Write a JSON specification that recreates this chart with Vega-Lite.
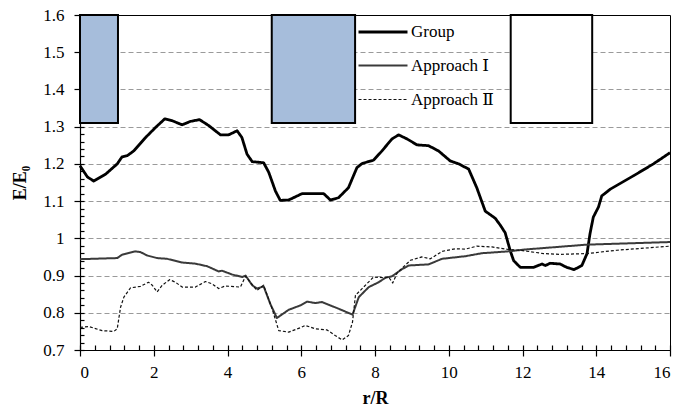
{
  "$schema": "https://vega.github.io/schema/vega-lite/v6.json",
  "width": 590,
  "height": 335,
  "autosize": {"type": "none"},
  "padding": {"left": 80, "top": 15, "right": 12, "bottom": 63},
  "config": {
    "font": "Liberation Serif",
    "view": {"stroke": "#000000", "strokeWidth": 1},
    "axis": {
      "labelFont": "Liberation Serif",
      "labelFontSize": 17,
      "labelColor": "#000000",
      "titleFont": "Liberation Serif",
      "titleFontSize": 18,
      "titleFontWeight": "bold",
      "titleColor": "#000000",
      "domainColor": "#000000",
      "tickColor": "#000000",
      "domainWidth": 1.2,
      "tickWidth": 1.2,
      "grid": false
    },
    "legend": {
      "labelFont": "Liberation Serif, DejaVu Serif",
      "labelFontSize": 17,
      "labelColor": "#000000"
    }
  },
  "datasets": {
    "curves": [
      {"s": "Group", "r": 0, "v": 1.195},
      {"s": "Group", "r": 0.2, "v": 1.165},
      {"s": "Group", "r": 0.37, "v": 1.154},
      {"s": "Group", "r": 0.69, "v": 1.172},
      {"s": "Group", "r": 1.01, "v": 1.2},
      {"s": "Group", "r": 1.14, "v": 1.219},
      {"s": "Group", "r": 1.28, "v": 1.222},
      {"s": "Group", "r": 1.46, "v": 1.235},
      {"s": "Group", "r": 1.78, "v": 1.271},
      {"s": "Group", "r": 2.05, "v": 1.298},
      {"s": "Group", "r": 2.3, "v": 1.321},
      {"s": "Group", "r": 2.5, "v": 1.316},
      {"s": "Group", "r": 2.77, "v": 1.305},
      {"s": "Group", "r": 2.99, "v": 1.314},
      {"s": "Group", "r": 3.24, "v": 1.319},
      {"s": "Group", "r": 3.49, "v": 1.303},
      {"s": "Group", "r": 3.81, "v": 1.278},
      {"s": "Group", "r": 4.03, "v": 1.278},
      {"s": "Group", "r": 4.26, "v": 1.289},
      {"s": "Group", "r": 4.39, "v": 1.271},
      {"s": "Group", "r": 4.53, "v": 1.226},
      {"s": "Group", "r": 4.67, "v": 1.206},
      {"s": "Group", "r": 4.98, "v": 1.203},
      {"s": "Group", "r": 5.12, "v": 1.177},
      {"s": "Group", "r": 5.3, "v": 1.127},
      {"s": "Group", "r": 5.43, "v": 1.102},
      {"s": "Group", "r": 5.66, "v": 1.103},
      {"s": "Group", "r": 6.02, "v": 1.12},
      {"s": "Group", "r": 6.61, "v": 1.12},
      {"s": "Group", "r": 6.79, "v": 1.103},
      {"s": "Group", "r": 7.01, "v": 1.109},
      {"s": "Group", "r": 7.28, "v": 1.136},
      {"s": "Group", "r": 7.51, "v": 1.19},
      {"s": "Group", "r": 7.65, "v": 1.201},
      {"s": "Group", "r": 7.96, "v": 1.21},
      {"s": "Group", "r": 8.19, "v": 1.235},
      {"s": "Group", "r": 8.46, "v": 1.267},
      {"s": "Group", "r": 8.64, "v": 1.278},
      {"s": "Group", "r": 8.87, "v": 1.267},
      {"s": "Group", "r": 9.14, "v": 1.251},
      {"s": "Group", "r": 9.45, "v": 1.249},
      {"s": "Group", "r": 9.72, "v": 1.235},
      {"s": "Group", "r": 10.04, "v": 1.208},
      {"s": "Group", "r": 10.27, "v": 1.2},
      {"s": "Group", "r": 10.54, "v": 1.186},
      {"s": "Group", "r": 10.76, "v": 1.136},
      {"s": "Group", "r": 10.99, "v": 1.073},
      {"s": "Group", "r": 11.26, "v": 1.054},
      {"s": "Group", "r": 11.4, "v": 1.035},
      {"s": "Group", "r": 11.53, "v": 1.015},
      {"s": "Group", "r": 11.67, "v": 0.966},
      {"s": "Group", "r": 11.76, "v": 0.94},
      {"s": "Group", "r": 11.94, "v": 0.922},
      {"s": "Group", "r": 12.3, "v": 0.922},
      {"s": "Group", "r": 12.53, "v": 0.931},
      {"s": "Group", "r": 12.62, "v": 0.927},
      {"s": "Group", "r": 12.75, "v": 0.933},
      {"s": "Group", "r": 13.02, "v": 0.931},
      {"s": "Group", "r": 13.2, "v": 0.922},
      {"s": "Group", "r": 13.4, "v": 0.916},
      {"s": "Group", "r": 13.61, "v": 0.927},
      {"s": "Group", "r": 13.75, "v": 0.959},
      {"s": "Group", "r": 13.83, "v": 1.012},
      {"s": "Group", "r": 13.92, "v": 1.057},
      {"s": "Group", "r": 14.06, "v": 1.084},
      {"s": "Group", "r": 14.15, "v": 1.114},
      {"s": "Group", "r": 14.38, "v": 1.132},
      {"s": "Group", "r": 15.01, "v": 1.168},
      {"s": "Group", "r": 15.55, "v": 1.2},
      {"s": "Group", "r": 16, "v": 1.23},
      {"s": "Approach Ⅰ", "r": 0, "v": 0.944},
      {"s": "Approach Ⅰ", "r": 1.01, "v": 0.947},
      {"s": "Approach Ⅰ", "r": 1.14, "v": 0.956},
      {"s": "Approach Ⅰ", "r": 1.5, "v": 0.965},
      {"s": "Approach Ⅰ", "r": 1.64, "v": 0.963},
      {"s": "Approach Ⅰ", "r": 1.82, "v": 0.954},
      {"s": "Approach Ⅰ", "r": 2.09, "v": 0.947},
      {"s": "Approach Ⅰ", "r": 2.36, "v": 0.945},
      {"s": "Approach Ⅰ", "r": 2.77, "v": 0.935},
      {"s": "Approach Ⅰ", "r": 3.13, "v": 0.932},
      {"s": "Approach Ⅰ", "r": 3.45, "v": 0.925},
      {"s": "Approach Ⅰ", "r": 3.76, "v": 0.911},
      {"s": "Approach Ⅰ", "r": 3.85, "v": 0.913},
      {"s": "Approach Ⅰ", "r": 4.12, "v": 0.903},
      {"s": "Approach Ⅰ", "r": 4.4, "v": 0.896},
      {"s": "Approach Ⅰ", "r": 4.49, "v": 0.9},
      {"s": "Approach Ⅰ", "r": 4.67, "v": 0.874},
      {"s": "Approach Ⅰ", "r": 4.8, "v": 0.865},
      {"s": "Approach Ⅰ", "r": 4.98, "v": 0.871},
      {"s": "Approach Ⅰ", "r": 5.16, "v": 0.824},
      {"s": "Approach Ⅰ", "r": 5.34, "v": 0.786},
      {"s": "Approach Ⅰ", "r": 5.66, "v": 0.808},
      {"s": "Approach Ⅰ", "r": 5.98, "v": 0.82},
      {"s": "Approach Ⅰ", "r": 6.16, "v": 0.83},
      {"s": "Approach Ⅰ", "r": 6.38, "v": 0.826},
      {"s": "Approach Ⅰ", "r": 6.56, "v": 0.829},
      {"s": "Approach Ⅰ", "r": 7.01, "v": 0.811},
      {"s": "Approach Ⅰ", "r": 7.39, "v": 0.795},
      {"s": "Approach Ⅰ", "r": 7.56, "v": 0.842},
      {"s": "Approach Ⅰ", "r": 7.83, "v": 0.869},
      {"s": "Approach Ⅰ", "r": 8.1, "v": 0.882},
      {"s": "Approach Ⅰ", "r": 8.28, "v": 0.894},
      {"s": "Approach Ⅰ", "r": 8.46, "v": 0.898},
      {"s": "Approach Ⅰ", "r": 8.73, "v": 0.917},
      {"s": "Approach Ⅰ", "r": 8.91, "v": 0.927},
      {"s": "Approach Ⅰ", "r": 9.45, "v": 0.93},
      {"s": "Approach Ⅰ", "r": 9.82, "v": 0.945},
      {"s": "Approach Ⅰ", "r": 10.45, "v": 0.952},
      {"s": "Approach Ⅰ", "r": 10.9, "v": 0.96},
      {"s": "Approach Ⅰ", "r": 11.62, "v": 0.965},
      {"s": "Approach Ⅰ", "r": 12.07, "v": 0.97},
      {"s": "Approach Ⅰ", "r": 13.74, "v": 0.983},
      {"s": "Approach Ⅰ", "r": 16, "v": 0.99},
      {"s": "Approach Ⅱ", "r": 0, "v": 0.761},
      {"s": "Approach Ⅱ", "r": 0.24, "v": 0.763},
      {"s": "Approach Ⅱ", "r": 0.6, "v": 0.752},
      {"s": "Approach Ⅱ", "r": 0.92, "v": 0.75},
      {"s": "Approach Ⅱ", "r": 1.01, "v": 0.757},
      {"s": "Approach Ⅱ", "r": 1.1, "v": 0.815},
      {"s": "Approach Ⅱ", "r": 1.19, "v": 0.842},
      {"s": "Approach Ⅱ", "r": 1.37, "v": 0.867},
      {"s": "Approach Ⅱ", "r": 1.64, "v": 0.871},
      {"s": "Approach Ⅱ", "r": 1.86, "v": 0.882},
      {"s": "Approach Ⅱ", "r": 1.96, "v": 0.874},
      {"s": "Approach Ⅱ", "r": 2.09, "v": 0.856},
      {"s": "Approach Ⅱ", "r": 2.23, "v": 0.874},
      {"s": "Approach Ⅱ", "r": 2.43, "v": 0.889},
      {"s": "Approach Ⅱ", "r": 2.59, "v": 0.882},
      {"s": "Approach Ⅱ", "r": 2.77, "v": 0.869},
      {"s": "Approach Ⅱ", "r": 3.13, "v": 0.869},
      {"s": "Approach Ⅱ", "r": 3.4, "v": 0.884},
      {"s": "Approach Ⅱ", "r": 3.58, "v": 0.878},
      {"s": "Approach Ⅱ", "r": 3.76, "v": 0.865},
      {"s": "Approach Ⅱ", "r": 3.94, "v": 0.872},
      {"s": "Approach Ⅱ", "r": 4.35, "v": 0.869},
      {"s": "Approach Ⅱ", "r": 4.49, "v": 0.898},
      {"s": "Approach Ⅱ", "r": 4.62, "v": 0.882},
      {"s": "Approach Ⅱ", "r": 4.8, "v": 0.86},
      {"s": "Approach Ⅱ", "r": 4.98, "v": 0.874},
      {"s": "Approach Ⅱ", "r": 5.21, "v": 0.811},
      {"s": "Approach Ⅱ", "r": 5.39, "v": 0.752},
      {"s": "Approach Ⅱ", "r": 5.66, "v": 0.748},
      {"s": "Approach Ⅱ", "r": 5.98, "v": 0.76},
      {"s": "Approach Ⅱ", "r": 6.11, "v": 0.766},
      {"s": "Approach Ⅱ", "r": 6.38, "v": 0.757},
      {"s": "Approach Ⅱ", "r": 6.7, "v": 0.754},
      {"s": "Approach Ⅱ", "r": 6.92, "v": 0.739},
      {"s": "Approach Ⅱ", "r": 7.11, "v": 0.727},
      {"s": "Approach Ⅱ", "r": 7.28, "v": 0.739},
      {"s": "Approach Ⅱ", "r": 7.39, "v": 0.775},
      {"s": "Approach Ⅱ", "r": 7.47, "v": 0.847},
      {"s": "Approach Ⅱ", "r": 7.65, "v": 0.865},
      {"s": "Approach Ⅱ", "r": 7.96, "v": 0.896},
      {"s": "Approach Ⅱ", "r": 8.28, "v": 0.894},
      {"s": "Approach Ⅱ", "r": 8.37, "v": 0.896},
      {"s": "Approach Ⅱ", "r": 8.48, "v": 0.88},
      {"s": "Approach Ⅱ", "r": 8.6, "v": 0.907},
      {"s": "Approach Ⅱ", "r": 8.96, "v": 0.941},
      {"s": "Approach Ⅱ", "r": 9.27, "v": 0.95},
      {"s": "Approach Ⅱ", "r": 9.5, "v": 0.945},
      {"s": "Approach Ⅱ", "r": 9.82, "v": 0.965},
      {"s": "Approach Ⅱ", "r": 10.18, "v": 0.972},
      {"s": "Approach Ⅱ", "r": 10.45, "v": 0.971},
      {"s": "Approach Ⅱ", "r": 10.76, "v": 0.979},
      {"s": "Approach Ⅱ", "r": 11.17, "v": 0.977},
      {"s": "Approach Ⅱ", "r": 11.62, "v": 0.97},
      {"s": "Approach Ⅱ", "r": 11.94, "v": 0.968},
      {"s": "Approach Ⅱ", "r": 12.57, "v": 0.959},
      {"s": "Approach Ⅱ", "r": 13.02, "v": 0.957},
      {"s": "Approach Ⅱ", "r": 13.74, "v": 0.959},
      {"s": "Approach Ⅱ", "r": 14.56, "v": 0.968},
      {"s": "Approach Ⅱ", "r": 16, "v": 0.979}
    ],
    "piles": [
      {"x1": 0, "x2": 1.03, "y1": 1.31, "y2": 1.6, "kind": "blue"},
      {"x1": 5.2, "x2": 7.46, "y1": 1.31, "y2": 1.6, "kind": "blue"},
      {"x1": 11.68, "x2": 13.89, "y1": 1.31, "y2": 1.6, "kind": "white"}
    ]
  },
  "layer": [
    {
      "data": {"name": "piles"},
      "mark": {"type": "rect", "stroke": "#000000", "strokeWidth": 2},
      "encoding": {
        "x": {
          "field": "x1", "type": "quantitative",
          "scale": {"domain": [0, 16], "nice": false, "zero": false},
          "axis": {
            "orient": "bottom",
            "values": [0,0.4,0.8,1.2,1.6,2,2.4,2.8,3.2,3.6,4,4.4,4.8,5.2,5.6,6,6.4,6.8,7.2,7.6,8,8.4,8.8,9.2,9.6,10,10.4,10.8,11.2,11.6,12,12.4,12.8,13.2,13.6,14,14.4,14.8,15.2,15.6,16],
            "tickSize": -5, "labels": false, "domain": false, "grid": false, "title": null
          }
        },
        "x2": {"field": "x2"},
        "y": {
          "field": "y1", "type": "quantitative",
          "scale": {"domain": [0.7, 1.6], "nice": false, "zero": false},
          "axis": {
            "orient": "left",
            "values": [0.8, 0.9, 1.0, 1.1, 1.2, 1.3, 1.4, 1.5],
            "grid": true, "gridColor": "#9a9a9a", "gridDash": [5, 3], "gridWidth": 1,
            "ticks": false, "labels": false, "domain": false, "title": null
          }
        },
        "y2": {"field": "y2"},
        "fill": {
          "field": "kind", "type": "nominal",
          "scale": {"domain": ["blue", "white"], "range": ["#a6bddb", "#ffffff"]},
          "legend": null
        }
      }
    },
    {
      "data": {"name": "curves"},
      "transform": [{"filter": "datum.s === 'Group'"}],
      "mark": {"type": "line", "strokeJoin": "round"},
      "encoding": {
        "x": {
          "field": "r", "type": "quantitative",
          "axis": {
            "orient": "bottom",
            "values": [0, 2, 4, 6, 8, 10, 12, 14, 16],
            "tickSize": 6, "labelPadding": 8, "title": "r/R", "titlePadding": 9
          }
        },
        "y": {
          "field": "v", "type": "quantitative",
          "axis": {
            "orient": "left",
            "values": [0.7, 0.8, 0.9, 1.0, 1.1, 1.2, 1.3, 1.4, 1.5, 1.6],
            "format": ".1~f", "tickSize": 6, "labelPadding": 10,
            "title": "E/E₀", "titlePadding": 13
          }
        },
        "stroke": {
          "field": "s", "type": "nominal",
          "scale": {"domain": ["Group", "Approach Ⅰ", "Approach Ⅱ"], "range": ["#000000", "#3a3a3a", "#111111"]},
          "legend": {
            "orient": "none", "legendX": 277, "legendY": -9, "title": null,
            "symbolType": "stroke", "symbolSize": 2400, "rowPadding": -22, "labelOffset": 2
          }
        },
        "strokeWidth": {
          "field": "s", "type": "nominal",
          "scale": {"domain": ["Group", "Approach Ⅰ", "Approach Ⅱ"], "range": [2.8, 1.2, 1.5]},
          "legend": {
            "orient": "none", "legendX": 277, "legendY": -9, "title": null,
            "symbolType": "stroke", "symbolSize": 2400, "rowPadding": -22, "labelOffset": 2
          }
        },
        "strokeDash": {
          "field": "s", "type": "nominal",
          "scale": {"domain": ["Group", "Approach Ⅰ", "Approach Ⅱ"], "range": [[1, 0], [1, 0], [3, 2]]},
          "legend": {
            "orient": "none", "legendX": 277, "legendY": -9, "title": null,
            "symbolType": "stroke", "symbolSize": 2400, "rowPadding": -22, "labelOffset": 2
          }
        }
      }
    },
    {
      "data": {"name": "curves"},
      "transform": [{"filter": "datum.s !== 'Group'"}],
      "mark": {"type": "line", "strokeJoin": "round"},
      "encoding": {
        "x": {"field": "r", "type": "quantitative", "axis": null},
        "y": {
          "field": "v", "type": "quantitative",
          "axis": {
            "orient": "left",
            "values": [0.7,0.72,0.74,0.76,0.78,0.8,0.82,0.84,0.86,0.88,0.9,0.92,0.94,0.96,0.98,1.0,1.02,1.04,1.06,1.08,1.1,1.12,1.14,1.16,1.18,1.2,1.22,1.24,1.26,1.28,1.3,1.32,1.34,1.36,1.38,1.4,1.42,1.44,1.46,1.48,1.5,1.52,1.54,1.56,1.58,1.6],
            "tickSize": -4, "labels": false, "domain": false, "grid": false, "title": null
          }
        },
        "stroke": {"field": "s", "type": "nominal"},
        "strokeWidth": {"field": "s", "type": "nominal"},
        "strokeDash": {"field": "s", "type": "nominal"}
      }
    }
  ],
  "resolve": {"axis": {"x": "independent", "y": "independent"}}
}
